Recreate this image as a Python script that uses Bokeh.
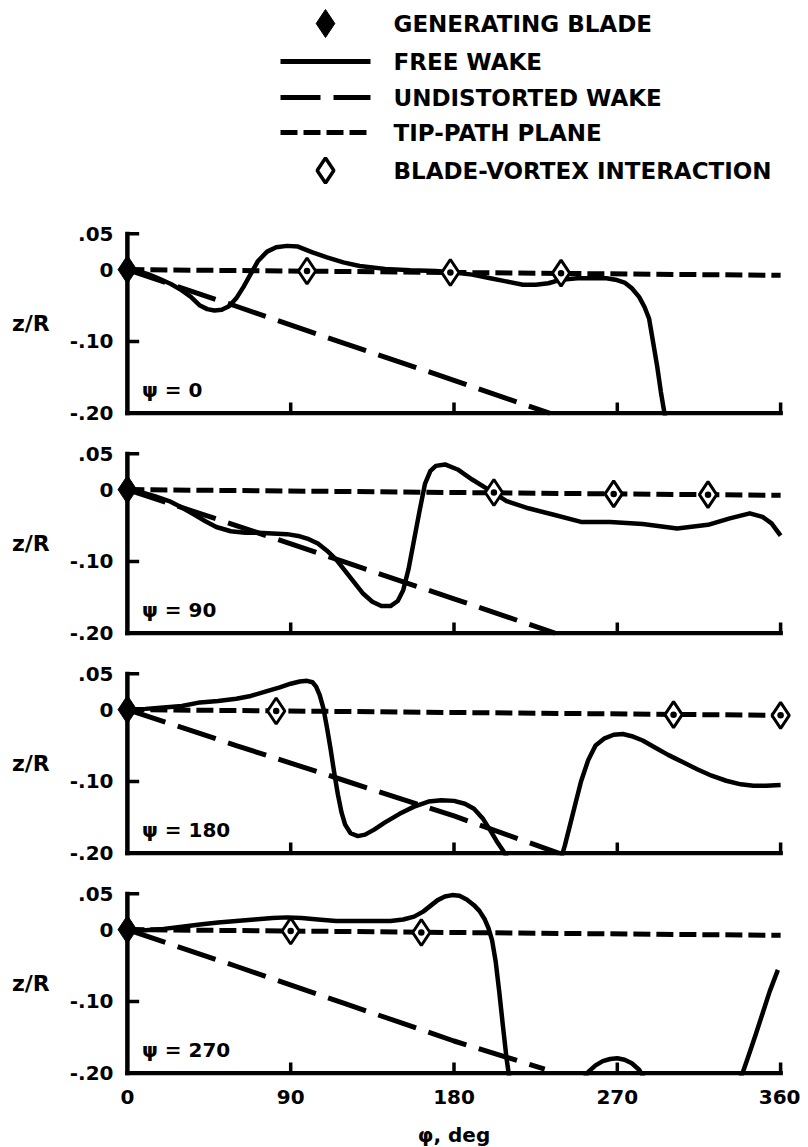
import numpy as np
from bokeh.plotting import figure
from bokeh.layouts import column
from bokeh.models import Range1d, FixedTicker, CustomJSTickFormatter
from bokeh.core.properties import value
from bokeh.embed import file_html
from bokeh.resources import INLINE

nan = float("nan")
FONT = "DejaVu Sans"

# ---------------- data ----------------
legend_labels = ["GENERATING BLADE", "FREE WAKE", "UNDISTORTED WAKE",
                 "TIP-PATH PLANE", "BLADE-VORTEX INTERACTION"]
psi_values = [0, 90, 180, 270]
x_ticks = [0, 90, 180, 270, 360]
y_ticks = [0.05, 0, -0.10, -0.20]

# free wake  (phi, deg ; z/R)
fw_phi_0 = [0, 5, 11, 17, 24, 30, 35, 40, 44, 48, 52, 56, 60, 64, 68, 72, 77, 82, 88, 94,
            102, 110, 119, 128, 142, 156, 170, 180, 190, 200, 208, 218, 225, 232, 239, 248,
            256, 264, 269, 274, 278, 282, 285, 287.5, 290, 292, 294, 296, 298]
fw_z_0 = [0, -0.002, -0.006, -0.012, -0.020, -0.029, -0.038, -0.050, -0.055, -0.057,
          -0.056, -0.051, -0.040, -0.024, -0.006, 0.012, 0.025, 0.031, 0.033, 0.032,
          0.024, 0.017, 0.010, 0.005, 0.001, -0.001, -0.002, -0.004, -0.007, -0.012,
          -0.016, -0.021, -0.021, -0.019, -0.014, -0.012, -0.012, -0.012, -0.014, -0.018,
          -0.026, -0.038, -0.052, -0.068, -0.105, -0.135, -0.170, -0.200, -0.225]

fw_phi_90 = [0, 8, 15, 23, 30, 37, 43, 49, 57, 65, 72, 80, 88, 95, 100, 105, 110, 115, 120, 125,
             130, 135, 140, 145, 149, 152, 155, 158, 161, 164, 167, 170, 175, 182, 190, 199,
             209, 221, 235, 250, 266, 284, 303, 320, 332, 343, 350, 355, 360]
fw_z_90 = [0, -0.004, -0.009, -0.016, -0.025, -0.035, -0.044, -0.052, -0.058, -0.060,
           -0.060, -0.061, -0.062, -0.065, -0.069, -0.075, -0.085, -0.097, -0.113, -0.129,
           -0.145, -0.156, -0.162, -0.162, -0.155, -0.140, -0.110, -0.070, -0.030, 0.008,
           0.026, 0.033, 0.035, 0.028, 0.014, 0.000, -0.016, -0.026, -0.035, -0.045,
           -0.045, -0.048, -0.054, -0.049, -0.040, -0.033, -0.038, -0.047, -0.064]

fw_phi_180 = [0, 10, 20, 30, 40, 50, 60, 68, 76, 84, 90, 95, 99, 102, 104, 106, 108, 110, 112, 114,
              116, 118, 120, 123, 127, 131, 136, 142, 150, 158, 166, 173, 180, 186, 191, 196,
              200, 204, 208, 211, nan, 238, 241, 244, 247, 250, 254, 258, 263, 268,
              273, 278, 284, 291, 298, 306, 314, 322, 330, 338, 345, 352, 360]
fw_z_180 = [0, 0.001, 0.003, 0.005, 0.010, 0.012, 0.015, 0.019, 0.025, 0.031,
            0.036, 0.039, 0.040, 0.038, 0.032, 0.020, 0.002, -0.025, -0.055, -0.088,
            -0.118, -0.143, -0.160, -0.172, -0.176, -0.174, -0.167, -0.157, -0.145, -0.135,
            -0.128, -0.126, -0.127, -0.131, -0.138, -0.152, -0.168, -0.185, -0.200, -0.215,
            nan, -0.215, -0.190, -0.160, -0.130, -0.100, -0.070, -0.050, -0.040, -0.035,
            -0.034, -0.037, -0.043, -0.053, -0.063, -0.073, -0.083, -0.092, -0.099, -0.104,
            -0.106, -0.106, -0.105]

fw_phi_270 = [0, 10, 20, 30, 40, 50, 60, 70, 80, 88, 96, 105, 115, 125, 135, 145, 152, 158, 163, 167,
              171, 175, 179, 183, 187, 191, 194, 197, 199, 201, 203, 205, 207, 209, 211, nan,
              250, 254, 258, 262, 266, 270, 274, 278, 282, 286, nan,
              336, 339, 342, 346, 350, 354, 358.5]
fw_z_270 = [0, -0.001, 0.001, 0.004, 0.007, 0.010, 0.012, 0.014, 0.016, 0.017,
            0.016, 0.014, 0.012, 0.012, 0.012, 0.012, 0.014, 0.018, 0.025, 0.033,
            0.041, 0.046, 0.048, 0.047, 0.042, 0.034, 0.026, 0.014, 0.002, -0.015,
            -0.045, -0.088, -0.135, -0.180, -0.215, nan,
            -0.215, -0.198, -0.189, -0.183, -0.180, -0.179, -0.181, -0.186, -0.195, -0.212, nan,
            -0.215, -0.200, -0.178, -0.148, -0.117, -0.086, -0.056]

# undistorted wake
uw_phi_0 = [0, 60, 120, 180, 233]
uw_z_0 = [0, -0.051, -0.103, -0.154, -0.200]
uw_phi_90 = [0, 60, 120, 180, 236]
uw_z_90 = [0, -0.050, -0.101, -0.152, -0.200]
uw_phi_180 = [0, 60, 120, 180, 238]
uw_z_180 = [0, -0.050, -0.099, -0.148, -0.200]
uw_phi_270 = [0, 60, 120, 180, 230]
uw_z_270 = [0, -0.051, -0.103, -0.155, -0.194]

# tip-path plane
tpp_phi = [0, 360]
tpp_z = [0, -0.008]

# generating blade
gb_phi = [0]
gb_z = [0]

# blade-vortex interactions
bvi_phi_0 = [99, 178, 239]
bvi_z_0 = [-0.002, -0.004, -0.005]
bvi_phi_90 = [202, 268, 320]
bvi_z_90 = [-0.004, -0.006, -0.007]
bvi_phi_180 = [82, 301, 360]
bvi_z_180 = [-0.002, -0.007, -0.008]
bvi_phi_270 = [90, 162]
bvi_z_270 = [-0.002, -0.004]

panels = [
    (fw_phi_0, fw_z_0, uw_phi_0, uw_z_0, bvi_phi_0, bvi_z_0),
    (fw_phi_90, fw_z_90, uw_phi_90, uw_z_90, bvi_phi_90, bvi_z_90),
    (fw_phi_180, fw_z_180, uw_phi_180, uw_z_180, bvi_phi_180, bvi_z_180),
    (fw_phi_270, fw_z_270, uw_phi_270, uw_z_270, bvi_phi_270, bvi_z_270),
]

# ---------------- styles ----------------
FW_W = 4.5
UW_DASH = "40 13"
TPP_DASH = "17 6"
BORDER_L, BORDER_R, FRAME_W = 116, 9, 675

# ---------------- legend block ----------------
LEG_H = 221
leg = figure(frame_width=FRAME_W, frame_height=LEG_H,
             x_range=Range1d(BORDER_L, BORDER_L + FRAME_W), y_range=Range1d(LEG_H, 0),
             x_axis_location=None, y_axis_location=None,
             toolbar_location=None, output_backend="svg",
             min_border_left=BORDER_L, min_border_right=BORDER_R,
             min_border_top=0, min_border_bottom=0, outline_line_color=None)
leg.grid.visible = False
rows = [23, 61, 97, 132, 170]
sw_x0, sw_x1, sw_xc, txt_x = 280, 370, 325, 393
leg.scatter([sw_xc], [rows[0]], marker="diamond", size=28, color="black")
leg.line([sw_x0, sw_x1], [rows[1], rows[1]], line_width=5, color="black")
leg.line([sw_x0, sw_x1], [rows[2], rows[2]], line_width=5, color="black", line_dash=UW_DASH)
leg.line([sw_x0, sw_x1], [rows[3], rows[3]], line_width=5, color="black", line_dash=TPP_DASH)
leg.scatter([sw_xc], [rows[4]], marker="diamond", size=25, fill_color="white",
            line_color="black", line_width=3.5)
leg.text(x=[txt_x] * len(legend_labels), y=rows, text=legend_labels,
         text_font=value(FONT), text_font_size="23px", text_font_style="bold",
         text_baseline="middle", text_align="left", text_color="black")

yfmt_code = """
if (tick == 0) { return "0"; }
var s = Math.abs(tick).toFixed(2).replace(/^0/, "");
return (tick < 0 ? "-" : "") + s;
"""

figs = [leg]
x_lo, x_hi = -6, 366
y_lo, y_hi = -0.203, 0.053
for i, psi in enumerate(psi_values):
    last = (i == len(psi_values) - 1)
    fw_phi, fw_z, uw_phi, uw_z, bvi_phi, bvi_z = panels[i]
    p = figure(frame_width=FRAME_W, frame_height=184,
               x_range=Range1d(x_lo, x_hi), y_range=Range1d(y_lo, y_hi),
               x_axis_location="below" if last else None,
               toolbar_location=None, output_backend="svg",
               min_border_left=BORDER_L, min_border_right=BORDER_R, min_border_top=10,
               min_border_bottom=62 if last else 26, outline_line_color=None)
    p.grid.visible = False

    ax = p.yaxis[0]
    ax.ticker = FixedTicker(ticks=y_ticks)
    ax.formatter = CustomJSTickFormatter(code=yfmt_code)
    ax.axis_line_color = None
    ax.major_tick_line_color = None
    ax.minor_tick_line_color = None
    ax.major_tick_in = 0
    ax.major_tick_out = 0
    ax.major_label_standoff = 3
    ax.major_label_text_font = FONT
    ax.major_label_text_font_size = "20px"
    ax.major_label_text_font_style = "bold"
    ax.major_label_text_color = "black"
    ax.axis_label = "z/R"
    ax.axis_label_orientation = "horizontal"
    ax.axis_label_standoff = 17
    ax.axis_label_text_font = FONT
    ax.axis_label_text_font_size = "22px"
    ax.axis_label_text_font_style = "bold"
    ax.axis_label_text_color = "black"

    if last:
        bx = p.xaxis[0]
        bx.ticker = FixedTicker(ticks=x_ticks)
        bx.axis_line_color = None
        bx.major_tick_line_color = None
        bx.minor_tick_line_color = None
        bx.major_tick_in = 0
        bx.major_tick_out = 0
        bx.major_label_standoff = 14
        bx.major_label_text_font = FONT
        bx.major_label_text_font_size = "20px"
        bx.major_label_text_font_style = "bold"
        bx.major_label_text_color = "black"
        bx.axis_label = "\u03c6, deg"
        bx.axis_label_standoff = 16
        bx.axis_label_text_font = FONT
        bx.axis_label_text_font_size = "20px"
        bx.axis_label_text_font_style = "bold"
        bx.axis_label_text_color = "black"

    # data lines
    p.line(uw_phi, uw_z, line_width=5, color="black", line_dash=UW_DASH)
    p.line(tpp_phi, tpp_z, line_width=5, color="black", line_dash=TPP_DASH)
    p.line(np.array(fw_phi, dtype=float), np.array(fw_z, dtype=float),
           line_width=FW_W, color="black", line_join="round")

    # axis frame lines drawn at phi = 0 and z = -0.20
    x0t, x1t = x_ticks[0], x_ticks[-1]
    ybot, ytop = y_ticks[-1], y_ticks[0]
    p.segment(x0=[x0t, x0t], y0=[ybot, ybot], x1=[x0t, x1t], y1=[ytop, ybot],
              line_width=4.5, color="black", line_cap="square")
    # inward tick stubs
    yt = y_ticks[:-1]
    p.segment(x0=[x0t] * len(yt), y0=yt, x1=[x0t + 6.5] * len(yt), y1=yt,
              line_width=3.5, color="black")
    xt = x_ticks[1:]
    p.segment(x0=xt, y0=[ybot] * len(xt), x1=xt, y1=[ybot + 0.015] * len(xt),
              line_width=3.5, color="black")

    # markers
    p.scatter(bvi_phi, bvi_z, marker="diamond_dot", size=26, fill_color="white",
              line_color="black", line_width=3)
    p.scatter(gb_phi, gb_z, marker="diamond", size=28, color="black")

    p.text(x=[8], y=[-0.168], text=["\u03c8 = %d" % psi], text_font=value(FONT),
           text_font_size="20px", text_font_style="bold", text_baseline="middle",
           text_align="left", text_color="black")
    figs.append(p)

layout = column(*figs)
open("out.html", "w").write(file_html(layout, INLINE))
